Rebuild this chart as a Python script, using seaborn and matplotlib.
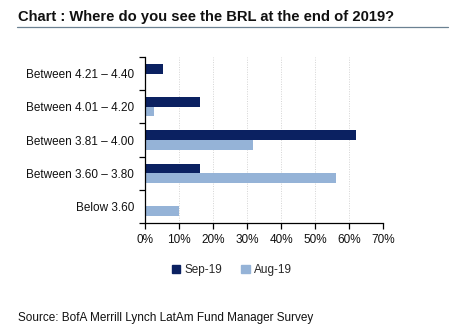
import matplotlib
matplotlib.use("Agg")
import matplotlib.pyplot as plt
import seaborn as sns
import pandas as pd
from matplotlib.ticker import MultipleLocator, FixedLocator, PercentFormatter

categories = ["Between 4.21 \u2013 4.40", "Between 4.01 \u2013 4.20", "Between 3.81 \u2013 4.00",
              "Between 3.60 \u2013 3.80", "Below 3.60"]
sep19 = [5.4, 16.2, 62.2, 16.2, 0.0]
aug19 = [0.0, 2.5, 31.7, 56.2, 10.0]
series_names = ["Sep-19", "Aug-19"]
colors = ["#0b2161", "#95b3d7"]

df = pd.DataFrame({
    "range": categories * 2,
    "share": sep19 + aug19,
    "month": [series_names[0]] * len(categories) + [series_names[1]] * len(categories),
})

sns.set_theme(style="white")
plt.rcParams["font.family"] = ["Liberation Sans", "DejaVu Sans"]

fig = plt.figure(figsize=(4.58, 3.35), dpi=100)
ax = fig.add_axes([145 / 458, 1 - 223 / 335, (383 - 145) / 458, (223 - 57) / 335])

sns.barplot(data=df, y="range", x="share", hue="month", order=categories,
            hue_order=series_names, palette=colors, orient="h", width=0.58,
            saturation=1, linewidth=0, ax=ax, legend=False)

ax.set_xlim(0, 70)
ax.set_ylim(len(categories) - 0.5, -0.5)
ax.xaxis.set_major_locator(MultipleLocator(10))
ax.xaxis.set_major_formatter(PercentFormatter(decimals=0))
ax.set_xlabel("")
ax.set_ylabel("")

ax.grid(axis="x", color="#d4d4d4", linestyle=(0, (1, 1.5)), linewidth=0.7)
ax.set_axisbelow(True)

for side in ["top", "right"]:
    ax.spines[side].set_visible(False)
for side in ["left", "bottom"]:
    ax.spines[side].set_color("#000000")
    ax.spines[side].set_linewidth(0.9)

# tick marks sit on the category boundaries, labels in the middle
ax.yaxis.set_minor_locator(FixedLocator([i - 0.5 for i in range(len(categories) + 1)]))
ax.tick_params(axis="y", which="major", length=0, labelsize=8.5, pad=8, labelcolor="#111111")
ax.tick_params(axis="y", which="minor", length=4, width=0.9, color="#000000", left=True)
ax.tick_params(axis="x", which="major", length=4, width=0.9, color="#000000", bottom=True,
               labelsize=8.5, labelcolor="#111111", pad=4)

# title with rule underneath
fig.text(18 / 458, 1 - 17 / 335, "Chart : Where do you see the BRL at the end of 2019?",
         fontsize=10.6, fontweight="bold", color="#111111", va="center", ha="left")
fig.add_artist(plt.Line2D([17 / 458, 448 / 458], [1 - 27 / 335, 1 - 27 / 335],
                          color="#6b8192", linewidth=0.9))

handles = [plt.Rectangle((0, 0), 1, 1, color=c) for c in colors]
fig.legend(handles, series_names, loc="center", bbox_to_anchor=(232 / 458, 1 - 270 / 335),
           ncol=2, frameon=False, fontsize=8.5, handlelength=0.7, handleheight=0.7,
           handletextpad=0.4, columnspacing=1.6)

fig.text(18 / 458, 1 - 318 / 335, "Source: BofA Merrill Lynch LatAm Fund Manager Survey",
         fontsize=8.5, color="#111111", va="center", ha="left")

fig.savefig("out.png", dpi=100)
